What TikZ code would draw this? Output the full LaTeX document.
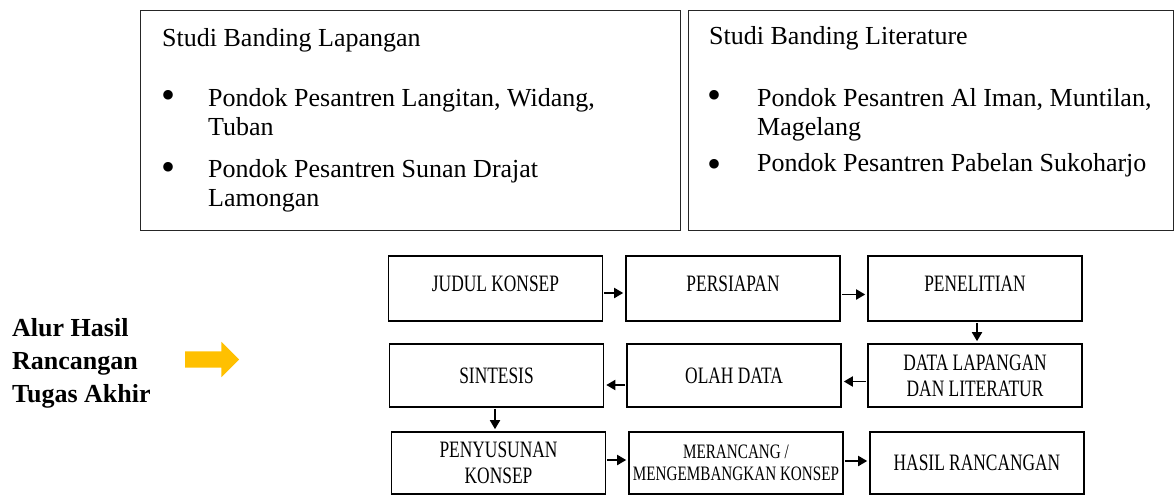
\documentclass[tikz,border=0pt]{standalone}
\usepackage{fontspec}
\setmainfont{Liberation Serif}
\newfontfamily\flowfont[FakeStretch=0.74]{Liberation Serif}
\usetikzlibrary{arrows.meta,shapes.arrows}
\definecolor{arrowgold}{HTML}{FFC000}

\begin{document}
\begin{tikzpicture}[x=1pt, y=-1pt,
  studybox/.style={shape=rectangle, draw=black!85, line width=1.3pt, anchor=north west, minimum height=220pt, inner sep=0pt},
  bodytext/.style={anchor=base west, inner sep=0pt, font=\fontsize{26}{29}\selectfont, align=left},
  dot/.style={inner sep=0pt, font=\fontsize{40}{40}\selectfont},
  procbox/.style={shape=rectangle, draw=black, line width=1.6pt, minimum width=214pt, minimum height=63pt, inner sep=0pt, font=\flowfont\fontsize{23.5}{26}\selectfont, align=center},
  flowarr/.style={-{Triangle[length=9pt,width=10pt]}, line width=1.8pt, draw=black, shorten <=1pt, shorten >=2pt}]
\useasboundingbox (0,0) rectangle (1174,495);

\node[studybox, minimum width=540pt] (lapangan) at (140,10) {};
\node[studybox, minimum width=485pt] (literatur) at (688,10) {};
\node[bodytext] (titleA) at (162,46) {Studi Banding Lapangan};
\node[dot] (dotA1) at (168,99) {\textbullet};
\node[bodytext] (itemA1) at (208,135) {Pondok Pesantren Langitan, Widang,\\Tuban};
\node[dot] (dotA2) at (168,171.5) {\textbullet};
\node[bodytext] (itemA2) at (208,206) {Pondok Pesantren Sunan Drajat\\Lamongan};
\node[bodytext] (titleB) at (709,45) {Studi Banding Literature};
\node[dot] (dotB1) at (714,99) {\textbullet};
\node[bodytext] (itemB1) at (757,135) {Pondok Pesantren Al Iman, Muntilan,\\Magelang};
\node[dot] (dotB2) at (714,168) {\textbullet};
\node[bodytext] (itemB2) at (757,171) {Pondok Pesantren Pabelan Sukoharjo};

\node[anchor=base west, inner sep=0pt, font=\bfseries\fontsize{26}{33}\selectfont, align=left] (alur) at (12,402) {Alur Hasil\\Rancangan\\Tugas Akhir};
\node[single arrow, fill=arrowgold, inner xsep=0pt, inner ysep=8pt, minimum height=54pt, minimum width=35pt, single arrow head extend=9.5pt] (pointer) at (208,359.5) {};

\node[procbox, minimum height=65pt, text depth=10pt] (judul) at (495.5,288.5) {JUDUL KONSEP};
\node[procbox, minimum height=65pt, text depth=10pt] (persiapan) at (733,288.5) {PERSIAPAN};
\node[procbox, minimum height=65pt, text depth=10pt] (penelitian) at (975,288.5) {PENELITIAN};
\node[procbox] (sintesis) at (496.5,375.5) {SINTESIS};
\node[procbox] (olah) at (734,375.5) {OLAH DATA};
\node[procbox] (datalap) at (975,375.5) {DATA LAPANGAN\\DAN LITERATUR};
\node[procbox, minimum height=62pt] (penyusunan) at (498.5,463) {PENYUSUNAN\\KONSEP};
\node[procbox, minimum height=62pt, font=\flowfont\fontsize{20.5}{22}\selectfont] (merancang) at (736,463) {MERANCANG /\\MENGEMBANGKAN KONSEP};
\node[procbox, minimum height=62pt] (hasil) at (977,463) {HASIL RANCANGAN};

\draw [flowarr] ([yshift=-4.5pt]judul.east) -- ([yshift=-4.5pt]persiapan.west);
\draw [flowarr] ([yshift=-6pt]persiapan.east) -- ([yshift=-6pt]penelitian.west);
\draw [flowarr] ([xshift=2pt]penelitian.south) -- ([xshift=2pt]datalap.north);
\draw [flowarr] ([yshift=-6pt]datalap.west) -- ([yshift=-6pt]olah.east);
\draw [flowarr] ([yshift=-9.5pt]olah.west) -- ([yshift=-9.5pt]sintesis.east);
\draw [flowarr] ([xshift=-1.5pt]sintesis.south) -- ([xshift=-1.5pt]sintesis.south |- penyusunan.north);
\draw [flowarr] ([yshift=3pt]penyusunan.east) -- ([yshift=3pt]merancang.west);
\draw [flowarr] ([yshift=2pt]merancang.east) -- ([yshift=2pt]hasil.west);
\end{tikzpicture}
\end{document}
